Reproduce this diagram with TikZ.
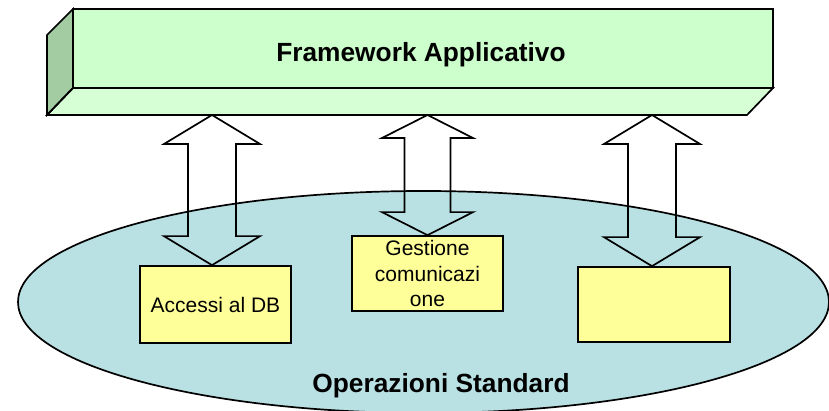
\documentclass[tikz,border=0pt]{standalone}
\usepackage{fontspec}
\setmainfont{Liberation Sans}
\usetikzlibrary{calc,shapes.geometric}
\definecolor{fwfront}{RGB}{204,255,204}
\definecolor{fwside}{RGB}{163,204,163}
\definecolor{fwbottom}{RGB}{214,255,214}
\definecolor{opfill}{RGB}{185,224,227}
\definecolor{boxfill}{RGB}{255,255,153}
\tikzset{
  outl/.style={draw=black, line width=1.7pt, line join=miter},
  opell/.style={ellipse, outl, fill=opfill, inner sep=0pt, minimum width=811pt, minimum height=222pt},
  ybox/.style={outl, fill=boxfill, rectangle, inner sep=0pt, align=center,
     font=\fontsize{21}{25.3}\selectfont},
  bigtxt/.style={font=\fontsize{26.3}{30}\selectfont\bfseries, inner sep=0pt},
  arrowline/.style={outl},
}
\newcommand\dblarr[5]{%
  \draw[arrowline] (#1) -- ($(#1)+(#3,#5)$) -- ($(#1)+(#4,#5)$) -- ($(#2)+(#4,-#5)$)
    -- ($(#2)+(#3,-#5)$) -- (#2) -- ($(#2)+(-#3,-#5)$) -- ($(#2)+(-#4,-#5)$)
    -- ($(#1)+(-#4,#5)$) -- ($(#1)+(-#3,#5)$) -- cycle;}
\begin{document}
\begin{tikzpicture}[x=1pt,y=-1pt]
\useasboundingbox (0,0) rectangle (829,411);
% ellipse
\node[opell] (os) at (423.5,302) {};
\node[bigtxt, anchor=base] (ostxt) at (441,392) {Operazioni Standard};
% 3D framework box
\coordinate (ftl) at (73,9);
\coordinate (ftr) at (773,9);
\coordinate (fbl) at (73,88);
\coordinate (fbr) at (773,88);
\coordinate (bbl) at (47,115);
\coordinate (bbr) at (747,115);
\coordinate (btl) at (47,35);
\fill[fwside] (ftl) -- (btl) -- (bbl) -- (fbl) -- cycle;
\fill[fwbottom] (fbl) -- (fbr) -- (bbr) -- (bbl) -- cycle;
\node[outl, fill=fwfront, rectangle, inner sep=0pt, minimum width=700pt, minimum height=79pt] (fw) at (423,48.5) {};
\draw[outl] (ftl) -- (btl) -- (bbl) -- (fbl) -- cycle;
\draw[outl] (fbl) -- (fbr) -- (bbr) -- (bbl) -- cycle;
\node[bigtxt, anchor=base] (fwtxt) at (421,62) {Framework Applicativo};
% boxes
\node[ybox, minimum width=151pt, minimum height=77pt] (b1) at (215.5,304.5) {Accessi al DB};
\node[ybox, minimum width=151pt, minimum height=75pt] (b2) at (427.5,273.5) {Gestione\\comunicazi\\one};
\node[ybox, minimum width=152pt, minimum height=75pt] (b3) at (654,304.5) {};
% arrows
\coordinate (a1t) at (212,115);
\coordinate (a2t) at (427.5,115);
\coordinate (a3t) at (652,115);
\coordinate (a1b) at (a1t |- b1.north);
\coordinate (a2b) at (a2t |- b2.north);
\coordinate (a3b) at (a3t |- b3.north);
\dblarr{a1t}{a1b}{48}{24}{29}
\dblarr{a2t}{a2b}{45.5}{23}{23}
\dblarr{a3t}{a3b}{48}{24}{29}
\end{tikzpicture}
\end{document}
